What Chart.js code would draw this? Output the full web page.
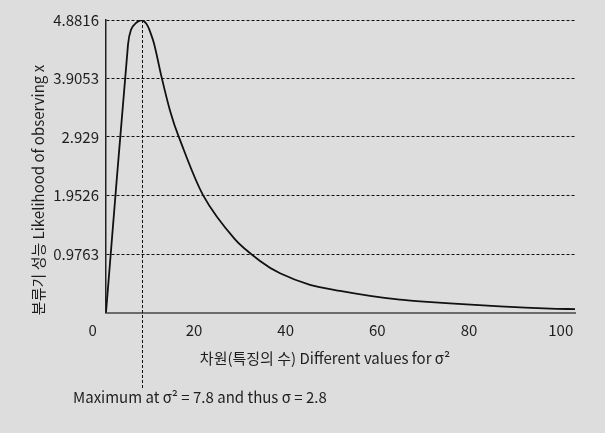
<!DOCTYPE html>
<html>
<head>
<meta charset="utf-8">
<script src="https://cdn.jsdelivr.net/npm/chart.js@4.4.1/dist/chart.umd.min.js"></script>
<style>
  html, body { margin: 0; padding: 0; background: #dcdddc; }
  #wrap { width: 605px; height: 433px; position: relative; }
</style>
</head>
<body>
<div id="wrap"><canvas id="likelihoodChart"></canvas></div>
<script>
// 그래프 데이터
const sigma2 = [0, 4.8, 5.45, 6.5, 7.8, 8.8, 9.45, 10.54, 12.15, 14.0, 15.88, 21.23, 28.14, 33.6, 37.96, 44.5, 51.05, 57.6, 64.1, 68.5, 75.0, 85.95, 96.9, 102.3];
const likelihood = [0, 4.47, 4.72, 4.83, 4.8816, 4.82, 4.72, 4.47, 3.92, 3.36, 2.93, 1.95, 1.22, 0.86, 0.655, 0.462, 0.36, 0.278, 0.215, 0.186, 0.152, 0.102, 0.066, 0.055];
const xTicks = [0, 20, 40, 60, 80, 100];
const yTicks = [0.9763, 1.9526, 2.929, 3.9053, 4.8816];
const maxSigma2 = 7.8;

const xTitle = '차원(특징의 수) Different values for σ²';
const yTitle = '분류기 성능 Likelihood of observing x';
const noteText = 'Maximum at σ² = 7.8 and thus σ = 2.8';

const FONT = '"Noto Sans CJK KR", "Noto Sans", sans-serif';
const TEXT_COLOR = '#1e1e1e';

// 최대값 위치의 점선과 축 제목을 직접 그리는 플러그인
const annotatePlugin = {
    id: 'annotate',
    afterDraw(chart) {
        const ctx = chart.ctx;
        const area = chart.chartArea;
        const x = chart.scales.x.getPixelForValue(maxSigma2);

        ctx.save();
        ctx.strokeStyle = '#111';
        ctx.lineWidth = 1;
        ctx.setLineDash([3, 2]);
        ctx.beginPath();
        ctx.moveTo(Math.round(x) + 0.5, area.top);
        ctx.lineTo(Math.round(x) + 0.5, 389);
        ctx.stroke();
        ctx.setLineDash([]);

        ctx.fillStyle = TEXT_COLOR;
        ctx.font = '15px ' + FONT;
        ctx.textBaseline = 'middle';

        // x축 제목
        ctx.textAlign = 'center';
        ctx.fillText(xTitle, 325, 358);

        // 아래 설명
        ctx.textAlign = 'left';
        ctx.fillText(noteText, 73, 397);

        // y축 제목
        ctx.translate(38, 190);
        ctx.rotate(-Math.PI / 2);
        ctx.textAlign = 'center';
        ctx.fillText(yTitle, 0, 0);
        ctx.restore();
    }
};

const ctx = document.getElementById('likelihoodChart').getContext('2d');
new Chart(ctx, {
    type: 'line',
    data: {
        datasets: [{
            data: sigma2.map((s, i) => ({ x: s, y: likelihood[i] })),
            borderColor: '#111',
            borderWidth: 1.8,
            pointRadius: 0,
            fill: false,
            tension: 0.3
        }]
    },
    options: {
        responsive: true,
        maintainAspectRatio: false,
        animation: false,
        layout: { padding: { top: 20, right: 30, left: 0, bottom: 0 } },
        plugins: {
            legend: { display: false },
            tooltip: { enabled: false }
        },
        scales: {
            x: {
                type: 'linear',
                min: 0,
                max: 102.3,
                afterBuildTicks(scale) {
                    // "0" 라벨은 원본처럼 축보다 조금 왼쪽에
                    scale.ticks = xTicks.map(v => ({ value: v === 0 ? -2.1 : v }));
                },
                afterFit(scale) { scale.height = 433 - 312.5; },
                ticks: {
                    callback: v => (v < 0 ? '0' : String(v)),
                    labelOffset: -3.7,
                    padding: 9,
                    color: TEXT_COLOR,
                    font: { family: FONT, size: 15 },
                    maxRotation: 0
                },
                grid: { display: false, drawTicks: false },
                border: { color: '#6b6b6b', width: 2 }
            },
            y: {
                min: 0,
                max: 4.8816,
                afterBuildTicks(scale) {
                    scale.ticks = yTicks.map(v => ({ value: v }));
                },
                afterFit(scale) { scale.width = 106; },
                ticks: {
                    callback: v => String(v),
                    padding: 7,
                    color: TEXT_COLOR,
                    font: { family: FONT, size: 15 }
                },
                grid: {
                    color: '#111',
                    lineWidth: 1,
                    drawTicks: false
                },
                border: { color: '#222', width: 1.5, dash: [3, 2] }
            }
        }
    },
    plugins: [annotatePlugin]
});
</script>
</body>
</html>
